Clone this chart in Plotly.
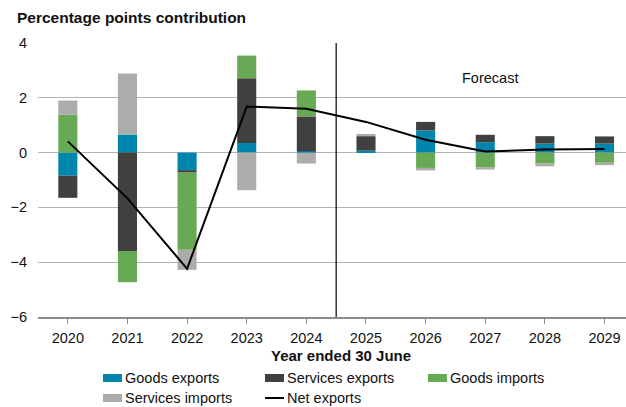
import plotly.graph_objects as go

# Contributions to GDP growth from trade, percentage points
years = ["2020", "2021", "2022", "2023", "2024", "2025", "2026", "2027", "2028", "2029"]
goods_exports = [-0.84, 0.66, -0.64, 0.35, 0.05, 0.07, 0.81, 0.38, 0.33, 0.33]
services_exports = [-0.81, -3.59, -0.09, 2.36, 1.27, 0.53, 0.31, 0.27, 0.27, 0.26]
goods_imports = [1.39, -1.14, -2.82, 0.83, 0.95, 0.0, -0.56, -0.53, -0.40, -0.37]
services_imports = [0.51, 2.23, -0.73, -1.37, -0.40, 0.08, -0.09, -0.09, -0.10, -0.09]
net_exports = [0.41, -1.67, -4.24, 1.68, 1.60, 1.12, 0.47, 0.04, 0.11, 0.13]

y_ticks = [4, 2, 0, -2, -4, -6]

C_GE = "#0085AD"
C_SE = "#404040"
C_GI = "#68A955"
C_SI = "#AEABAB"
FONT = "Liberation Sans, Arial, sans-serif"
FS = 14.5

W, H = 626, 407
L, R, T, B = 38, 0, 43, 90


def px_x(p):
    return (p - L) / (W - L - R)


def px_y(p):
    return (H - B - p) / (H - T - B)


fig = go.Figure()
series = [
    ("Goods exports", goods_exports, C_GE),
    ("Services exports", services_exports, C_SE),
    ("Goods imports", goods_imports, C_GI),
    ("Services imports", services_imports, C_SI),
]
for name, vals, col in series:
    fig.add_trace(go.Bar(
        x=years, y=vals, name=name, width=0.32,
        marker=dict(color=col, line=dict(width=0)),
        showlegend=False,
    ))

fig.add_trace(go.Scatter(
    x=years, y=net_exports, name="Net exports", mode="lines",
    line=dict(color="black", width=2), showlegend=False,
))

shapes = [
    # forecast divider
    dict(type="line", xref="x", yref="y", x0=4.5, x1=4.5, y0=-6, y1=4,
         line=dict(color="black", width=1.2)),
]
annotations = [
    dict(text="Forecast", xref="x", yref="y", x=7.08, y=2.74, showarrow=False,
         font=dict(family=FONT, size=FS, color="#111")),
    dict(text="<b>Percentage points contribution</b>", xref="paper", yref="paper",
         x=px_x(15), y=px_y(18), xanchor="left", yanchor="middle", showarrow=False,
         font=dict(family=FONT, size=15.5, color="#111")),
    dict(text="<b>Year ended 30 June</b>", xref="paper", yref="paper",
         x=px_x(341), y=px_y(355), xanchor="center", yanchor="middle", showarrow=False,
         font=dict(family=FONT, size=15, color="#111")),
]

# legend rows
legend_items = [
    ("Goods exports", C_GE, 103, 378, "box"),
    ("Services exports", C_SE, 265, 378, "box"),
    ("Goods imports", C_GI, 428, 378, "box"),
    ("Services imports", C_SI, 103, 398, "box"),
    ("Net exports", "black", 265, 398, "line"),
]
for label, col, x0, yc, kind in legend_items:
    if kind == "box":
        shapes.append(dict(type="rect", xref="paper", yref="paper",
                           x0=px_x(x0), x1=px_x(x0 + 19), y0=px_y(yc + 4), y1=px_y(yc - 4),
                           fillcolor=col, line=dict(width=0)))
    else:
        shapes.append(dict(type="line", xref="paper", yref="paper",
                           x0=px_x(x0), x1=px_x(x0 + 19), y0=px_y(yc), y1=px_y(yc),
                           line=dict(color=col, width=2)))
    annotations.append(dict(text=label, xref="paper", yref="paper",
                            x=px_x(x0 + 20), y=px_y(yc), xanchor="left", yanchor="middle",
                            showarrow=False, font=dict(family=FONT, size=FS, color="#111")))

fig.update_layout(
    width=W, height=H,
    margin=dict(l=L, r=R, t=T, b=B, pad=0),
    barmode="relative",
    plot_bgcolor="white", paper_bgcolor="white",
    font=dict(family=FONT, size=FS, color="#111"),
    shapes=shapes, annotations=annotations,
    xaxis=dict(
        range=[-0.5, 9.36], showgrid=False, zeroline=False,
        showline=True, linecolor="#8C8C8C", linewidth=2,
        ticks="outside", ticklen=5, tickcolor="#8C8C8C", tickwidth=1,
        ticklabelstandoff=2,
        tickfont=dict(family=FONT, size=FS, color="#111"),
    ),
    yaxis=dict(
        range=[-6, 4], tickvals=y_ticks, showgrid=True, gridcolor="#B3B3B3", gridwidth=1,
        zeroline=False, showline=False, ticks="", ticklabelstandoff=10,
        tickfont=dict(family=FONT, size=FS, color="#111"),
    ),
)

fig.write_html("out.html")
